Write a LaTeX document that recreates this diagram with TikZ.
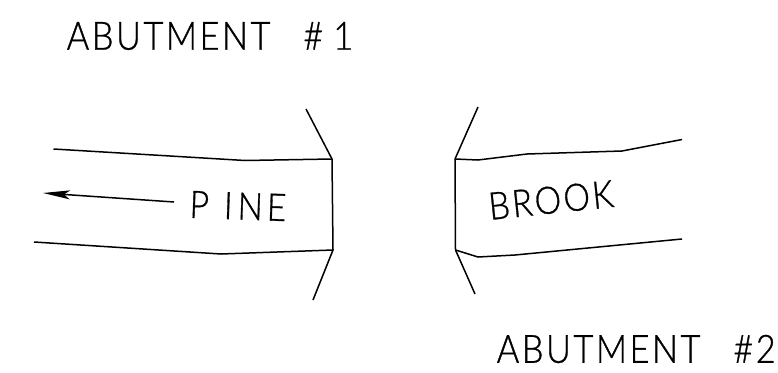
\documentclass[tikz,border=0pt]{standalone}
\usepackage{fontspec}
\usepackage{tikz}
\usetikzlibrary{arrows.meta}
\newfontfamily\cadfont[LetterSpace=6.5,FakeStretch=.88,FakeBold=.8]{Lato Light}

\begin{document}
\begin{tikzpicture}[x=1pt,y=-1pt,>={Stealth[length=27pt,width=9pt,inset=6pt]},line width=1.5pt,
  title node/.style={inner sep=0pt,anchor=west,font=\cadfont\fontsize{39}{39}\selectfont},
  river node/.style={inner sep=0pt,font=\cadfont\fontsize{38}{38}\selectfont}]

  \useasboundingbox (0,0) rectangle (778,372);

  \node[title node] (abut1) at (66,36) {ABUTMENT\hspace{33pt}\#\hspace{10pt}1};
  \node[title node] (abut2) at (496,349) {ABUTMENT\hspace{33pt}\#2};
  \node[river node,rotate=-2] (pine) at (238,206) {P\hspace{15pt}I\hspace{5pt}N\hspace{4pt}E};
  \node[river node,rotate=6] (brook) at (551,200) {BROOK};

  \coordinate (flow) at (43,193);
  \coordinate (tail) at (174,202);

  % left bank
  \draw (53.5,149) -- (245,160.5) -- (332,159);
  \draw (34,242) -- (221,254) -- (333,250);
  \draw (306,109) -- (332,159) -- (333,250) -- (313,300);

  % right bank
  \draw (682,139.5) -- (622,151) -- (527,154) -- (478,160) -- (455,159);
  \draw (682,239) -- (515,255) -- (478,257) -- (455.5,250);
  \draw (478,107) -- (455,159) -- (455.5,250) -- (475,294);

  \draw[->] (tail) -- (flow);

\end{tikzpicture}
\end{document}
